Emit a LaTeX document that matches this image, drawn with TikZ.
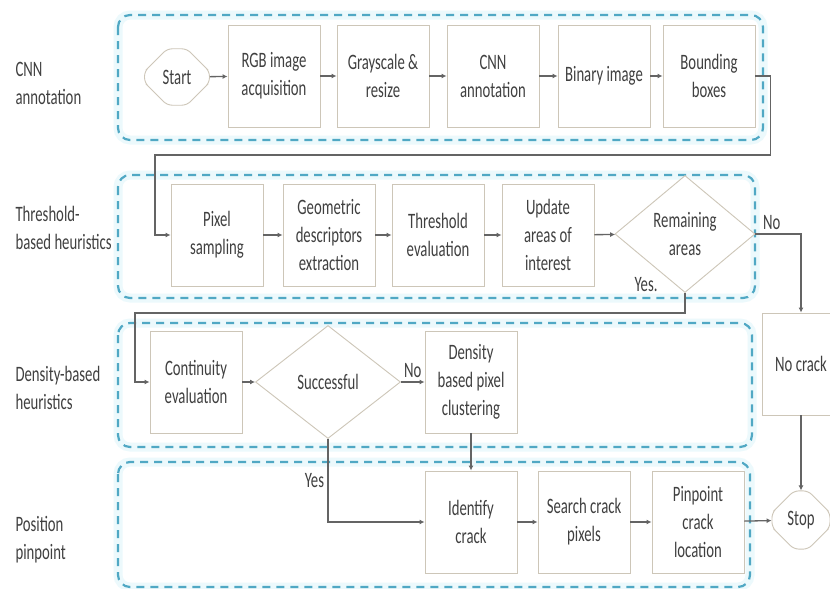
\documentclass[tikz,border=0pt]{standalone}
\usepackage{fontspec}
\setmainfont[FakeStretch=0.67]{Carlito}
\usetikzlibrary{shapes.geometric,shapes.misc,arrows.meta}
\definecolor{txtgray}{RGB}{64,64,64}
\definecolor{boxgray}{RGB}{205,198,184}
\definecolor{linegray}{RGB}{100,100,100}
\definecolor{panelblue}{RGB}{80,168,196}
\definecolor{glow}{RGB}{236,249,252}

\begin{document}
\begin{tikzpicture}[x=1pt,y=-1pt,
		font=\fontsize{22}{28}\selectfont,text=txtgray,
		stepbox/.style={draw=boxgray,line width=0.9pt,fill=white,align=center,
			minimum width=92pt,minimum height=102pt,inner sep=2pt},
		decision/.style={diamond,draw=boxgray,line width=0.9pt,fill=white,align=center,inner sep=0pt},
		terminal/.style={chamfered rectangle,chamfered rectangle xsep=5pt,chamfered rectangle ysep=24pt,
			rounded corners=5pt,draw=boxgray,line width=0.9pt,fill=white,minimum height=53pt},
		flow/.style={draw=linegray,line width=1.3pt,-{Latex[length=5pt,width=5pt]}},
		panel/.style={draw=panelblue,line width=2.2pt,dash pattern=on 8pt off 6pt,rounded corners=12pt},
		halo/.style={draw=glow,line width=9pt,rounded corners=12pt},
		lanelbl/.style={anchor=west,align=left}]
	\clip(0,0)rectangle(830,589);
	\fill[white](0,0)rectangle(830,589);
	% swim lanes
	\draw[halo](118,15)rectangle(763,140);
	\draw[halo](118,175)rectangle(755,298);
	\draw[halo](118,323)rectangle(752,447);
	\draw[halo](118,462)rectangle(750,587);
	\draw[panel](118,15)rectangle(763,140);
	\draw[panel](118,175)rectangle(755,298);
	\draw[panel](118,323)rectangle(752,447);
	\draw[panel](118,462)rectangle(750,587);
	\node[lanelbl](lcnn)at(12,83){CNN\\annotation};
	\node[lanelbl](lthr)at(12,228){Threshold-\\based heuristics};
	\node[lanelbl](lden)at(12,388){Density-based\\heuristics};
	\node[lanelbl](lpos)at(12,540){Position\\pinpoint};
	% first lane
	\node[terminal,minimum width=65pt](start)at(177,77){Start};
	\node[stepbox](rgb)at(274,76){RGB image\\acquisition};
	\node[stepbox](gray)at(383,76){Grayscale \&\\resize};
	\node[stepbox](cnn)at(493,76){CNN\\annotation};
	\node[stepbox](binary)at(604,76){Binary image};
	\node[stepbox](bound)at(709,76){Bounding\\boxes};
	% second lane
	\node[stepbox](pixel)at(217,235){Pixel\\sampling};
	\node[stepbox](geo)at(329,235){Geometric\\descriptors\\extraction};
	\node[stepbox](thresh)at(438,235){Threshold\\evaluation};
	\node[stepbox](update)at(548,235){Update\\areas of\\interest};
	\node[decision,minimum width=140pt,minimum height=117pt](remain)at(685,234){Remaining\\areas};
	% third lane
	\node[stepbox](cont)at(196,382){Continuity\\evaluation};
	\node[decision,minimum width=145pt,minimum height=113pt](succ)at(328,382){Successful};
	\node[stepbox](dens)at(471,382){Density\\based pixel\\clustering};
	\node[stepbox,minimum width=78pt](nocrack)at(801,364){No crack};
	% fourth lane
	\node[stepbox](ident)at(471,522){Identify\\crack};
	\node[stepbox](search)at(584,522){Search crack\\pixels};
	\node[stepbox](pinpt)at(698,522){Pinpoint\\crack\\location};
	\node[terminal,minimum width=58pt](stop)at(801,520){Stop};
	% connectors
	\draw[flow](start)--(rgb);
	\draw[flow](rgb)--(gray);
	\draw[flow](gray)--(cnn);
	\draw[flow](cnn)--(binary);
	\draw[flow](binary)--(bound);
	\draw[flow](bound.east)--++(15,0)|-(155,155)|-(pixel.west);
	\draw[flow](pixel)--(geo);
	\draw[flow](geo)--(thresh);
	\draw[flow](thresh)--(update);
	\draw[flow](update)--(remain);
	\draw[flow](remain.east)-|(nocrack.north)node[pos=0.18,above]{No};
	\draw[flow](remain.south)--++(0,20)-|(135,382)--(cont.west);
	\node(yes1)at(646,285){Yes.};
	\draw[flow](cont)--(succ);
	\draw[flow](succ.east)--(dens.west)node[midway,above]{No};
	\draw[flow](succ.south)|-(ident.west)node[pos=0.25,left]{Yes};
	\draw[flow](dens)--(ident);
	\draw[flow](ident)--(search);
	\draw[flow](search)--(pinpt);
	\draw[flow](pinpt)--(stop);
	\draw[flow](nocrack)--(stop);
\end{tikzpicture}
\end{document}
